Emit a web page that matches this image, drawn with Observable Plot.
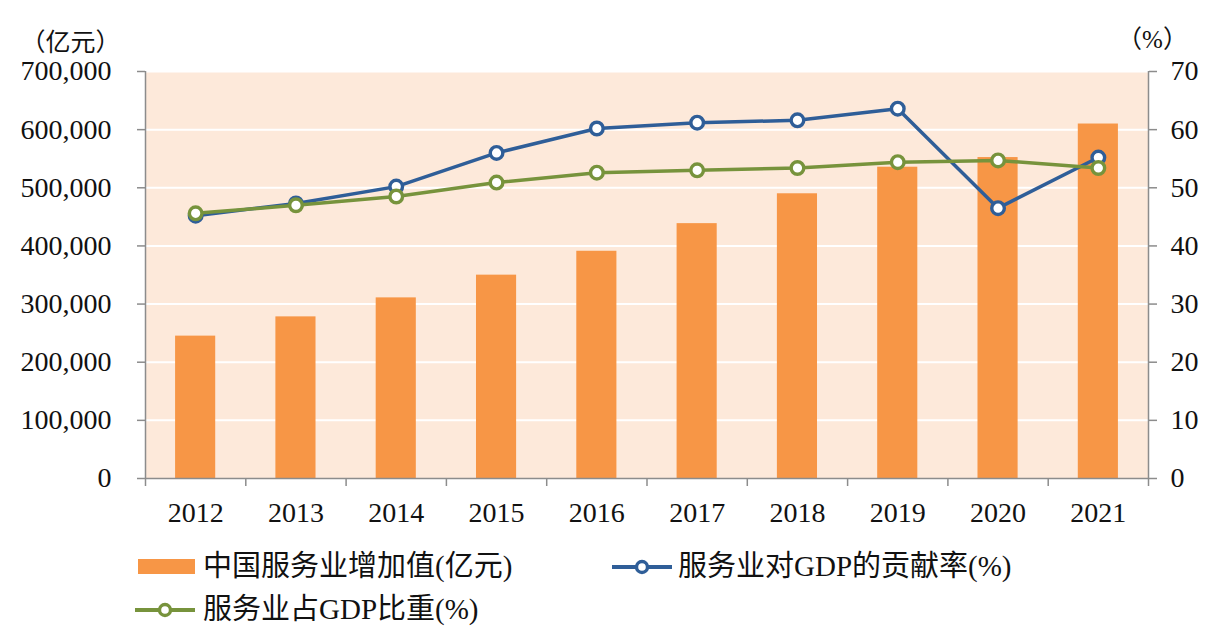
<!DOCTYPE html>
<html>
<head>
<meta charset="utf-8">
<script src="https://cdn.jsdelivr.net/npm/d3@7"></script>
<script src="https://cdn.jsdelivr.net/npm/@observablehq/plot@0.6"></script>
<style>
  body { margin: 0; background: #fff; }
  #wrap { position: relative; width: 1208px; height: 627px; font-family: "Liberation Serif", "Noto Sans CJK SC", serif; }
  .lg { position: absolute; font-size: 29px; line-height: 36px; color: #111; white-space: nowrap; }
  .sw { position: absolute; }
</style>
</head>
<body>
<div id="wrap"></div>
<script>
const years = ["2012","2013","2014","2015","2016","2017","2018","2019","2020","2021"];
const addedValue = [244856, 277984, 310654, 349745, 390828, 438356, 489701, 535371, 551974, 609680];
const contribution = [45.2, 47.3, 50.2, 56.0, 60.2, 61.2, 61.6, 63.6, 46.5, 55.2];
const share = [45.6, 47.0, 48.5, 50.9, 52.6, 53.0, 53.4, 54.4, 54.7, 53.4];
const leftTicks = [0, 100000, 200000, 300000, 400000, 500000, 600000, 700000];
const seriesNames = ["中国服务业增加值(亿元)", "服务业对GDP的贡献率(%)", "服务业占GDP比重(%)"];

const orange = "#F79646", blue = "#2F5E98", green = "#77933C", bg = "#FDE9DA", axisGray = "#8C8C8C";
const data = years.map((y, i) => ({year: y, i, value: addedValue[i], contrib: contribution[i], share: share[i]}));
const pct = v => v * 10000;

const chart = Plot.plot({
  width: 1208,
  height: 540,
  marginLeft: 145,
  marginRight: 60,
  marginTop: 71,
  marginBottom: 62,
  style: {fontFamily: "'Liberation Serif', 'Noto Sans CJK SC', serif", fontSize: "28px", color: "#111", background: "transparent"},
  x: {type: "linear", domain: [0, years.length], axis: null},
  y: {domain: [0, 700000], axis: null},
  marks: [
    Plot.frame({fill: bg, stroke: "none"}),
    Plot.ruleY(leftTicks.filter(d => d > 0), {stroke: "#ffffff", strokeWidth: 2}),
    Plot.rectY(data, {x1: d => d.i + 0.3, x2: d => d.i + 0.7, y: "value", fill: orange}),
    Plot.ruleX([0, years.length], {stroke: axisGray, strokeWidth: 1.5}),
    Plot.ruleY([0], {stroke: axisGray, strokeWidth: 1.5}),
    Plot.axisY({anchor: "left", label: null, ticks: leftTicks, tickFormat: d3.format(","), tickSize: 8, tickPadding: 26, stroke: axisGray, strokeWidth: 1.5, fontSize: 28}),
    Plot.axisY({anchor: "right", label: null, ticks: leftTicks, tickFormat: d => String(d / 10000), tickSize: 8, tickPadding: 14, stroke: axisGray, strokeWidth: 1.5, fontSize: 28}),
    Plot.axisX({label: null, ticks: d3.range(0, years.length + 1), tickFormat: () => "", tickSize: 8, stroke: axisGray, strokeWidth: 1.5}),
    Plot.axisX({label: null, ticks: years.map((y, i) => i + 0.5), tickFormat: d => years[Math.round(d - 0.5)], tickSize: 0, tickPadding: 24, fontSize: 28}),
    Plot.line(data, {x: d => d.i + 0.5, y: d => pct(d.contrib), stroke: blue, strokeWidth: 3.5}),
    Plot.dot(data, {x: d => d.i + 0.5, y: d => pct(d.contrib), r: 6.3, fill: "#fff", stroke: blue, strokeWidth: 3.4}),
    Plot.line(data, {x: d => d.i + 0.5, y: d => pct(d.share), stroke: green, strokeWidth: 3.5}),
    Plot.dot(data, {x: d => d.i + 0.5, y: d => pct(d.share), r: 6.3, fill: "#fff", stroke: green, strokeWidth: 3.4}),
    Plot.text(["（亿元）"], {frameAnchor: "top-left", dx: -75, dy: -38, textAnchor: "middle", fontSize: 25, fill: "#111"}),
    Plot.text(["（%）"], {frameAnchor: "top-right", dx: 4, dy: -41, textAnchor: "middle", fontSize: 25, fill: "#111"})
  ]
});

const wrap = document.getElementById("wrap");
chart.style.position = "absolute";
chart.style.left = "0px";
chart.style.top = "0px";
wrap.appendChild(chart);

function lineSwatch(color, left, cy) {
  const s = document.createElementNS("http://www.w3.org/2000/svg", "svg");
  s.setAttribute("width", 64); s.setAttribute("height", 20);
  s.setAttribute("class", "sw");
  s.style.left = (left - 2) + "px"; s.style.top = (cy - 10) + "px";
  s.innerHTML = `<line x1="2" x2="62" y1="10" y2="10" stroke="${color}" stroke-width="4"/>` +
    `<circle cx="32" cy="10" r="5.5" fill="#fff" stroke="${color}" stroke-width="3.4"/>`;
  wrap.appendChild(s);
}
function label(text, left, cy) {
  const d = document.createElement("div");
  d.className = "lg"; d.textContent = text;
  d.style.left = left + "px"; d.style.top = (cy - 18) + "px";
  wrap.appendChild(d);
}
const box = document.createElement("div");
box.className = "sw";
Object.assign(box.style, {left: "138px", top: "559px", width: "57px", height: "15px", background: orange});
wrap.appendChild(box);
label(seriesNames[0], 203, 566);
lineSwatch(blue, 612, 567);
label(seriesNames[1], 678, 566);
lineSwatch(green, 135, 610);
label(seriesNames[2], 203, 609);
</script>
</body>
</html>
